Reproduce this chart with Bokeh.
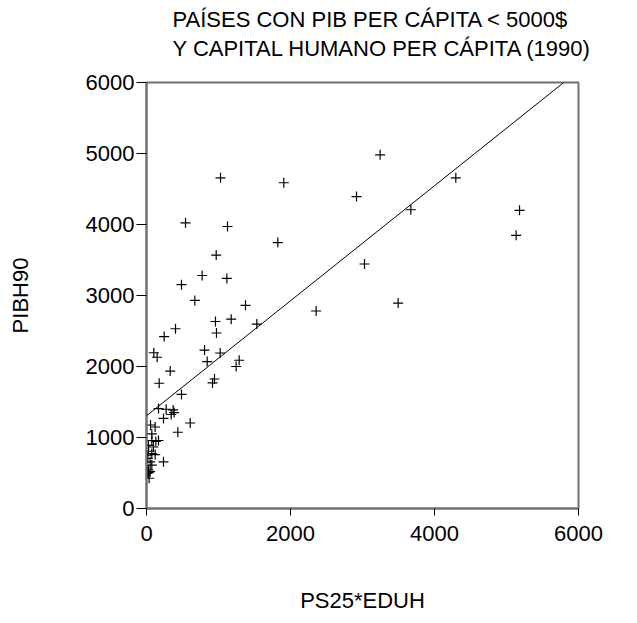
from bokeh.plotting import figure
from bokeh.models import Range1d, FixedTicker, Slope, Title
from bokeh.embed import file_html
from bokeh.resources import INLINE

# data
ps25_eduh = [1028, 1907, 2917, 542, 1125, 1824, 968, 773, 1116, 486,
             671, 1375, 2356, 958, 1176, 1532, 972, 403, 245, 102,
             148, 806, 1023, 843, 1287, 1245, 329, 917, 944, 176,
             486, 3245, 4296, 3671, 5181, 5134, 3028, 3495,
             167, 273, 370, 384, 343, 236, 607, 56, 120, 74,
             435, 74, 130, 167, 28, 97, 28, 74, 120, 5,
             236, 51, 18, 74, 28, 14, 51, 5, 37, 10, 20, 30]
pibh90 = [4657, 4588, 4393, 4023, 3972, 3745, 3569, 3282, 3241, 3153,
          2931, 2861, 2782, 2634, 2667, 2597, 2472, 2532, 2421, 2194,
          2130, 2231, 2190, 2069, 2088, 2000, 1935, 1769, 1824, 1764,
          1606, 4981, 4657, 4208, 4199, 3847, 3444, 2894,
          1407, 1398, 1389, 1351, 1324, 1268, 1204, 1176, 1148, 1051,
          1074, 958, 944, 958, 889, 866, 806, 773, 760, 750,
          657, 657, 704, 611, 542, 518, 518, 496, 426, 505, 500, 510]

fit_intercept = 1306
fit_slope = 0.81

x_ticks = [0, 2000, 4000, 6000]
y_ticks = [0, 1000, 2000, 3000, 4000, 5000, 6000]

title_line1 = "PAÍSES CON PIB PER CÁPITA < 5000$"
title_line2 = "Y CAPITAL HUMANO PER CÁPITA (1990)"
x_label = "PS25*EDUH"
y_label = "PIBH90"

FONT = "Liberation Sans"
GRAY = "#707070"

p = figure(width=629, height=615, output_backend="svg", toolbar_location=None,
           x_range=Range1d(0, 6000), y_range=Range1d(0, 6000),
           min_border_left=146, min_border_right=51,
           min_border_top=82, min_border_bottom=101,
           background_fill_color="white", border_fill_color="white")

p.title = None
t2 = Title(text=title_line2, align="left", offset=26, text_font=FONT,
           text_font_size="22px", text_font_style="normal", text_color="black",
           standoff=44)
t1 = Title(text=title_line1, align="left", offset=26, text_font=FONT,
           text_font_size="22px", text_font_style="normal", text_color="black",
           standoff=-40)
p.add_layout(t2, "above")
p.add_layout(t1, "above")

p.xgrid.visible = False
p.ygrid.visible = False
p.outline_line_color = GRAY
p.outline_line_width = 2

for ax in (p.xaxis[0], p.yaxis[0]):
    ax.axis_line_color = GRAY
    ax.axis_line_width = 2
    ax.major_tick_line_color = "black"
    ax.major_tick_line_width = 1
    ax.major_tick_in = 0
    ax.minor_tick_line_color = None
    ax.major_label_text_font = FONT
    ax.major_label_text_font_size = "22px"
    ax.major_label_text_color = "black"
    ax.axis_label_text_font = FONT
    ax.axis_label_text_font_size = "22px"
    ax.axis_label_text_font_style = "normal"
    ax.axis_label_text_color = "black"

p.xaxis[0].ticker = FixedTicker(ticks=x_ticks)
p.yaxis[0].ticker = FixedTicker(ticks=y_ticks)
p.xaxis[0].major_tick_out = 7
p.yaxis[0].major_tick_out = 10
p.xaxis[0].major_label_standoff = 10
p.yaxis[0].major_label_standoff = 2
p.xaxis[0].axis_label = x_label
p.yaxis[0].axis_label = y_label
p.xaxis[0].axis_label_standoff = 44
p.yaxis[0].axis_label_standoff = 50

p.add_layout(Slope(gradient=fit_slope, y_intercept=fit_intercept,
                   line_color="black", line_width=1))

p.scatter(ps25_eduh, pibh90, marker="cross", size=10, line_color="black",
          line_width=1.2)

open("out.html", "w").write(file_html(p, INLINE))
